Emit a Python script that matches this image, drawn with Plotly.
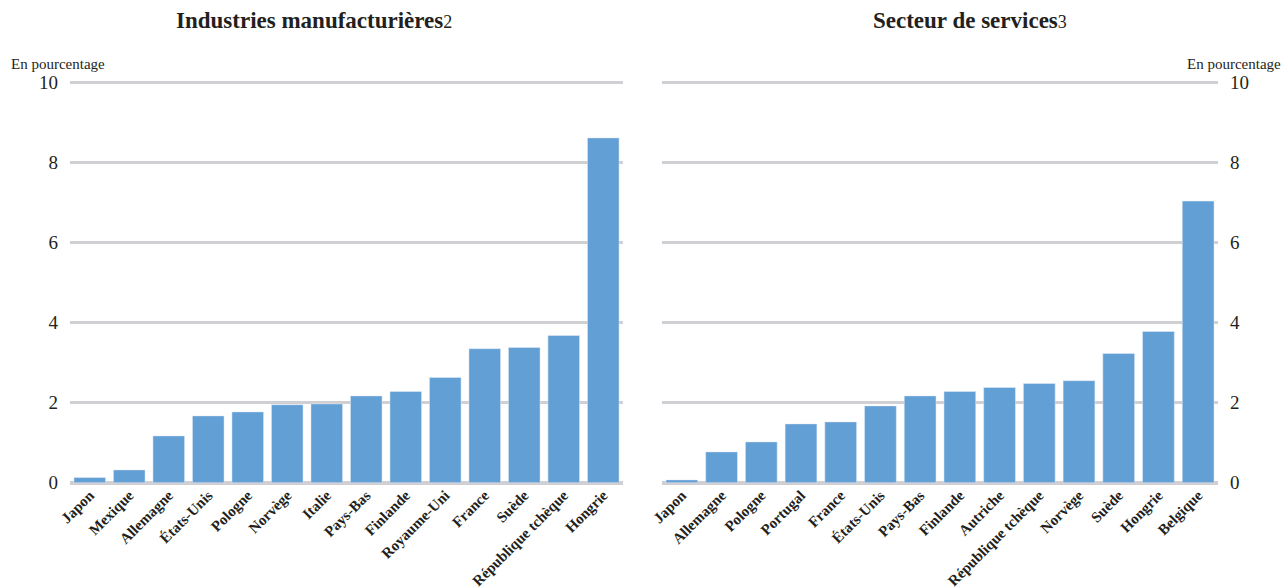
import plotly.graph_objects as go

# Manufacturing sector (left panel)
manuf_countries = ["Japon", "Mexique", "Allemagne", "États-Unis", "Pologne", "Norvège",
                   "Italie", "Pays-Bas", "Finlande", "Royaume-Uni", "France", "Suède",
                   "République tchèque", "Hongrie"]
manuf_values = [0.13, 0.32, 1.17, 1.67, 1.77, 1.95, 1.97, 2.17, 2.28, 2.63, 3.35, 3.38, 3.68, 8.62]

# Services sector (right panel)
serv_countries = ["Japon", "Allemagne", "Pologne", "Portugal", "France", "États-Unis",
                  "Pays-Bas", "Finlande", "Autriche", "République tchèque", "Norvège",
                  "Suède", "Hongrie", "Belgique"]
serv_values = [0.07, 0.77, 1.02, 1.47, 1.52, 1.92, 2.17, 2.28, 2.38, 2.48, 2.55, 3.23, 3.78, 7.04]

y_ticks = [0, 2, 4, 6, 8, 10]

BAR = "#629fd5"
GRID = "#d0d0d4"
SERIF = "Liberation Serif"
INK = "#231f20"

W, H = 1284, 588
PX_PER_UNIT = 40.0
Y0 = 482.7           # pixel row of the zero line
Y_MAX = 10.12        # a little headroom so the top gridline is drawn
y_bottom = (H - Y0) / H
y_top = (H - (Y0 - Y_MAX * PX_PER_UNIT)) / H

fig = go.Figure()
fig.add_trace(go.Bar(x=manuf_countries, y=manuf_values, marker_color=BAR,
                     xaxis="x", yaxis="y", showlegend=False))
fig.add_trace(go.Bar(x=serv_countries, y=serv_values, marker_color=BAR,
                     xaxis="x2", yaxis="y2", showlegend=False))


def xaxis_cfg(cats, dom, anchor):
    return dict(domain=dom, anchor=anchor, showgrid=False, zeroline=False, showline=False,
                ticks="", tickangle=-45, tickmode="array", tickvals=cats,
                ticktext=[f"<b>{c}</b>" for c in cats], automargin=False,
                tickfont=dict(family=SERIF, size=15, color=INK), fixedrange=True)


ycommon = dict(range=[0, Y_MAX], tickvals=y_ticks, showgrid=True, gridcolor=GRID,
               gridwidth=2.5, zeroline=True, zerolinecolor=GRID, zerolinewidth=4,
               showline=False, ticks="", automargin=False,
               tickfont=dict(family=SERIF, size=19, color=INK),
               domain=[y_bottom, y_top], fixedrange=True)

fig.update_layout(
    width=W, height=H,
    margin=dict(l=0, r=0, t=0, b=0),
    plot_bgcolor="white", paper_bgcolor="white",
    bargap=0.2,
    xaxis=xaxis_cfg(manuf_countries, [70 / W, 623 / W], "y"),
    xaxis2=xaxis_cfg(serv_countries, [662 / W, 1218 / W], "y2"),
    yaxis=dict(anchor="x", side="left", ticklabelstandoff=11, **ycommon),
    yaxis2=dict(anchor="x2", side="right", ticklabelstandoff=11, **ycommon),
    annotations=[
        dict(text="<b>Industries manufacturières</b><span style='font-size:18px'>2</span>",
             x=314 / W, y=1 - 21 / H, xref="paper", yref="paper", showarrow=False,
             xanchor="center", yanchor="middle",
             font=dict(family=SERIF, size=23, color=INK)),
        dict(text="<b>Secteur de services</b><span style='font-size:18px'>3</span>",
             x=970 / W, y=1 - 21 / H, xref="paper", yref="paper", showarrow=False,
             xanchor="center", yanchor="middle",
             font=dict(family=SERIF, size=23, color=INK)),
        dict(text="En pourcentage", x=9 / W, y=1 - 64 / H, xref="paper", yref="paper",
             showarrow=False, xanchor="left", yanchor="middle",
             font=dict(family=SERIF, size=15, color=INK)),
        dict(text="En pourcentage", x=1283 / W, y=1 - 64 / H, xref="paper", yref="paper",
             showarrow=False, xanchor="right", yanchor="middle",
             font=dict(family=SERIF, size=15, color=INK)),
    ],
)

fig.write_html("out.html")
